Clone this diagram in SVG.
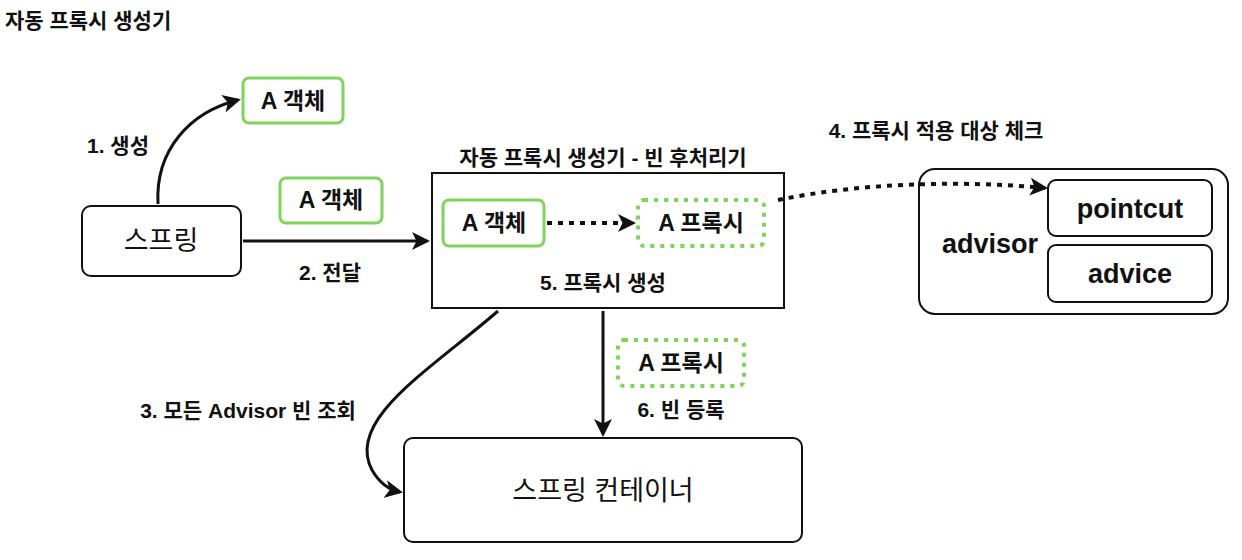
<svg xmlns="http://www.w3.org/2000/svg" width="1242" height="560" viewBox="0 0 1242 560">
<defs>
<style>
text{font-family:"Liberation Sans","Noto Sans CJK KR",sans-serif;fill:#111;text-anchor:middle;dominant-baseline:central}
.t{font-size:21px;font-weight:bold;text-anchor:start}
.lbl{font-size:21px;font-weight:600}
.gb{fill:#fff;stroke:#7fd45a;stroke-width:3}
.gd{fill:#fff;stroke:#7fd45a;stroke-width:4;stroke-dasharray:4 6}
.bx{fill:#fff;stroke:#111;stroke-width:2}
.c{fill:none;stroke:#111;stroke-width:3}
.d{fill:none;stroke:#111;stroke-width:4;stroke-dasharray:5 6}
.in{font-size:23px;font-weight:600}
.big{font-size:27px}
.en{font-size:27px;font-weight:600}
</style>
<marker id="ah" viewBox="0 0 12 12" refX="10" refY="6" markerWidth="6" markerHeight="6" orient="auto" markerUnits="strokeWidth">
<path d="M0,0 L12,6 L0,12 L3,6 Z" fill="#111"/>
</marker>
<marker id="ah2" viewBox="0 0 12 12" refX="10" refY="6" markerWidth="4.5" markerHeight="4.5" orient="auto" markerUnits="strokeWidth">
<path d="M0,0 L12,6 L0,12 L3,6 Z" fill="#111"/>
</marker>
</defs>
<text class="t" x="5" y="20">자동 프록시 생성기</text>

<g id="objA1"><rect class="gb" x="243" y="78" width="100" height="45" rx="6"/><text class="in" x="293" y="101">A 객체</text></g>
<g id="spring"><rect class="bx" x="82" y="206" width="159" height="70" rx="9"/><text class="big" x="161" y="241">스프링</text></g>
<g id="objA2"><rect class="gb" x="280" y="178" width="102" height="45" rx="6"/><text class="in" x="331" y="200">A 객체</text></g>

<g id="postprocessor">
<text class="lbl" x="603" y="157">자동 프록시 생성기 - 빈 후처리기</text>
<rect class="bx" x="432" y="173" width="352" height="135"/>
<text class="lbl" x="603" y="282">5. 프록시 생성</text>
</g>
<g id="objA3"><rect class="gb" x="443" y="200" width="101" height="46" rx="6"/><text class="in" x="494" y="223">A 객체</text></g>
<g id="proxyA1"><rect class="gd" x="638" y="200" width="126" height="46" rx="6"/><text class="in" x="701" y="223">A 프록시</text></g>

<g id="advisor">
<rect class="bx" x="919" y="169" width="309" height="145" rx="16"/>
<text class="en" x="990" y="244">advisor</text>
</g>
<g id="pointcut"><rect class="bx" x="1048" y="180" width="164" height="56" rx="8"/><text class="en" x="1130" y="209">pointcut</text></g>
<g id="advice"><rect class="bx" x="1048" y="245" width="164" height="57" rx="8"/><text class="en" x="1130" y="274">advice</text></g>

<g id="proxyA2"><rect class="gd" x="618" y="340" width="126" height="46" rx="6"/><text class="in" x="681" y="363">A 프록시</text></g>
<g id="container"><rect class="bx" x="404" y="438" width="398" height="104" rx="9"/><text class="big" x="603" y="491">스프링 컨테이너</text></g>

<g id="connectors">
<path class="c" d="M158,204 C155,150 190,112 238,100" marker-end="url(#ah)"/>
<text class="lbl" x="118" y="145">1. 생성</text>
<path class="c" d="M243,241 L427,241" marker-end="url(#ah)"/>
<text class="lbl" x="330" y="272">2. 전달</text>
<path class="c" d="M498,311 C430,370 345,420 372,470 C380,484 390,490 400,492" marker-end="url(#ah)"/>
<text class="lbl" x="248" y="410">3. 모든 Advisor 빈 조회</text>
<path class="d" d="M547,223 L633,223" marker-end="url(#ah2)"/>
<path class="d" d="M778,200 C860,183 960,180 1045,188" marker-end="url(#ah2)"/>
<text class="lbl" x="936" y="130">4. 프록시 적용 대상 체크</text>
<path class="c" d="M603,311 L603,434" marker-end="url(#ah)"/>
<text class="lbl" x="681" y="409">6. 빈 등록</text>
</g>
</svg>
